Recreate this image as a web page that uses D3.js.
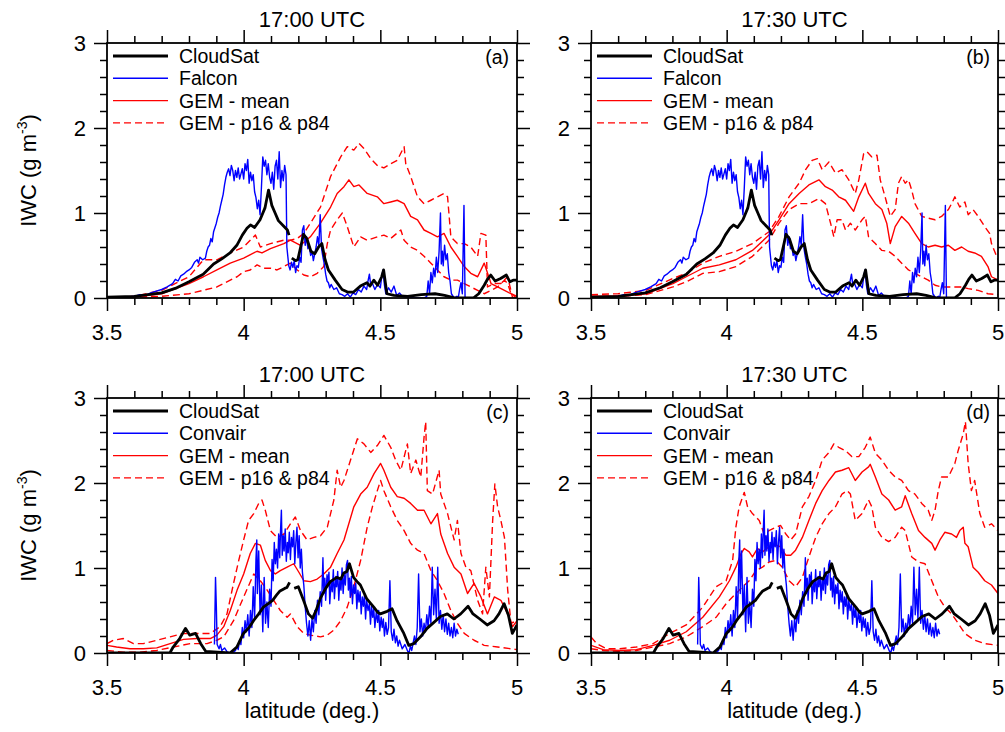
<!DOCTYPE html>
<html><head><meta charset="utf-8">
<script src="https://cdn.jsdelivr.net/npm/d3@7"></script>
<style>body{margin:0;background:#fff}svg{display:block}text{font-family:'Liberation Sans',Arial,Helvetica,sans-serif;fill:#000}</style>
</head><body><svg id="c" width="1005" height="732"></svg>
<script>
// ---------- axis tick definitions ----------
const xTicks=[3.5,4,4.5,5], xTickLabels=["3.5","4","4.5","5"];
const xMinorTicks=[3.6,3.7,3.8,3.9,4.1,4.2,4.3,4.4,4.6,4.7,4.8,4.9];
const yTicks=[0,1,2,3], yTickLabels=["0","1","2","3"];
const yMinorTicks=[0.2,0.4,0.6,0.8,1.2,1.4,1.6,1.8,2.2,2.4,2.6,2.8];
const titles=["17:00 UTC","17:30 UTC","17:00 UTC","17:30 UTC"];
const panelTags=["(a)","(b)","(c)","(d)"];
const aircraftNames=["Falcon","Falcon","Convair","Convair"];

// ---------- observations, Falcon track (panels a, b) ----------
const cloudsatFalcon=[[3.50,0.01],[3.60,0.02],[3.70,0.06],[3.755,0.12],[3.80,0.19],[3.852,0.28],[3.89,0.40],[3.92,0.46],[3.95,0.53],[3.975,0.62],[3.995,0.74],[4.012,0.82],[4.025,0.86],[4.04,0.83],[4.06,0.92],[4.078,1.06],[4.091,1.27],[4.103,1.09],[4.115,1.00],[4.127,0.91],[4.145,0.85],[4.16,0.80],[4.166,0.74],null,[4.176,0.47],[4.19,0.44],[4.198,0.45],[4.219,0.75],[4.231,0.70],[4.246,0.55],[4.26,0.52],[4.274,0.60],[4.286,0.64],[4.298,0.45],[4.31,0.33],[4.335,0.21],[4.36,0.10],[4.38,0.07],[4.402,0.07],[4.427,0.14],[4.451,0.18],[4.462,0.14],[4.476,0.21],[4.49,0.15],[4.505,0.25],[4.512,0.33],[4.524,0.05],[4.55,0.03],[4.60,0.02],[4.65,0.04],[4.70,0.05],[4.735,0.03],[4.775,0.00],[4.84,0.00],[4.86,0.05],[4.88,0.15],[4.892,0.22],[4.904,0.27],[4.92,0.20],[4.94,0.23],[4.961,0.27],[4.974,0.19],[4.986,0.21],[5.0,0.21]];
const falcon=[[3.55,0.00],[3.60,0.02],[3.62,0.04],[3.64,0.03],[3.66,0.06],[3.68,0.08],[3.70,0.10],[3.72,0.13],[3.74,0.17],[3.75,0.22],[3.76,0.20],[3.77,0.26],[3.78,0.28],[3.79,0.31],[3.80,0.33],[3.81,0.36],[3.82,0.42],[3.83,0.45],[3.835,0.41],[3.84,0.48],[3.85,0.45],[3.86,0.47],[3.865,0.55],[3.87,0.60],[3.875,0.62],[3.88,0.70],[3.885,0.66],[3.89,0.78],[3.895,0.83],[3.90,0.88],[3.905,0.95],[3.91,1.00],[3.915,1.08],[3.92,1.15],[3.925,1.22],[3.93,1.33],[3.935,1.42],[3.94,1.48],[3.945,1.52],[3.95,1.44],[3.955,1.56],[3.96,1.50],[3.965,1.38],[3.97,1.50],[3.975,1.42],[3.98,1.53],[3.985,1.40],[3.99,1.46],[3.995,1.52],[4.00,1.40],[4.005,1.58],[4.01,1.50],[4.015,1.63],[4.02,1.35],[4.025,1.48],[4.03,1.38],[4.035,1.45],[4.04,1.25],[4.045,1.18],[4.05,1.05],[4.055,1.15],[4.06,0.98],[4.065,1.30],[4.07,1.66],[4.075,1.55],[4.08,1.62],[4.085,1.45],[4.09,1.58],[4.095,1.42],[4.10,1.35],[4.105,1.48],[4.11,1.28],[4.115,1.55],[4.12,1.62],[4.125,1.40],[4.13,1.72],[4.135,1.30],[4.14,1.50],[4.145,1.38],[4.15,1.56],[4.155,1.45],[4.158,0.60],[4.165,0.38],[4.17,0.33],[4.175,0.42],[4.18,0.36],[4.185,0.44],[4.19,0.30],[4.195,0.38],[4.20,0.36],[4.205,0.48],[4.21,0.42],[4.215,0.80],[4.22,0.85],[4.225,0.62],[4.23,0.72],[4.235,0.58],[4.24,0.62],[4.245,0.50],[4.25,0.55],[4.255,0.44],[4.26,0.52],[4.265,0.60],[4.27,0.72],[4.275,0.62],[4.28,0.98],[4.285,0.58],[4.29,0.48],[4.295,0.40],[4.30,0.28],[4.305,0.20],[4.31,0.18],[4.315,0.12],[4.32,0.16],[4.33,0.10],[4.34,0.12],[4.35,0.05],[4.36,0.04],[4.37,0.02],[4.38,0.05],[4.39,0.01],[4.40,0.06],[4.41,0.04],[4.42,0.10],[4.43,0.07],[4.44,0.14],[4.45,0.10],[4.455,0.20],[4.46,0.28],[4.465,0.15],[4.47,0.18],[4.48,0.10],[4.49,0.16],[4.50,0.12],[4.505,0.25],[4.51,0.33],[4.515,0.15],[4.52,0.05],[4.53,0.12],[4.54,0.07],[4.55,0.14],[4.56,0.03],[4.57,0.06],[4.58,0.02],[4.60,0.01],[4.62,0.00],[4.66,0.00],[4.67,0.02],[4.675,0.20],[4.68,0.05],[4.685,0.30],[4.69,0.18],[4.695,0.35],[4.70,0.25],[4.705,0.48],[4.71,0.30],[4.715,0.55],[4.72,1.00],[4.723,0.40],[4.727,0.55],[4.73,0.38],[4.735,0.62],[4.74,0.45],[4.745,0.52],[4.75,0.30],[4.755,0.20],[4.76,0.05],[4.77,0.00],[4.78,0.02],[4.785,0.00],[4.79,0.10],[4.795,0.18],[4.80,0.05],[4.806,1.09],[4.81,0.00],[4.82,0.00]];

// ---------- observations, Convair track (panels c, d) ----------
const cloudsatConvair=[[3.50,0.00],[3.73,0.00],[3.742,0.07],[3.766,0.17],[3.787,0.29],[3.803,0.21],[3.824,0.23],[3.843,0.11],[3.861,0.02],[3.905,0.01],[3.95,0.00],[3.975,0.07],[3.999,0.23],[4.02,0.30],[4.036,0.38],[4.055,0.46],[4.072,0.54],[4.09,0.58],[4.106,0.62],[4.12,0.68],[4.133,0.73],[4.15,0.76],[4.158,0.77],[4.168,0.83],null,[4.185,0.76],[4.2,0.78],[4.219,0.62],[4.237,0.46],[4.252,0.41],[4.265,0.50],[4.28,0.64],[4.30,0.76],[4.317,0.84],[4.341,0.89],[4.355,0.87],[4.366,0.94],[4.378,0.96],[4.387,1.05],[4.402,0.89],[4.415,0.84],[4.427,0.80],[4.45,0.64],[4.476,0.54],[4.49,0.48],[4.50,0.46],[4.525,0.49],[4.543,0.52],[4.561,0.38],[4.586,0.23],[4.604,0.09],[4.622,0.11],[4.647,0.19],[4.671,0.29],[4.696,0.36],[4.72,0.43],[4.745,0.46],[4.769,0.40],[4.794,0.46],[4.821,0.55],[4.839,0.46],[4.864,0.40],[4.891,0.33],[4.916,0.38],[4.934,0.46],[4.953,0.58],[4.969,0.44],[4.983,0.23],[5.0,0.33]];
const convair=[[3.893,0.10],[3.897,0.89],[3.900,0.55],[3.903,0.10],[3.91,0.05],[3.915,0.10],[3.92,0.03],[3.93,0.06],[3.94,0.01],[3.95,0.00],[3.96,0.00],[3.97,0.03],[3.975,0.08],[3.98,0.04],[3.985,0.15],[3.99,0.10],[3.995,0.30],[4.00,0.18],[4.005,0.38],[4.01,0.25],[4.015,0.45],[4.02,0.20],[4.025,0.50],[4.03,0.30],[4.035,0.78],[4.04,0.40],[4.045,1.10],[4.048,1.33],[4.05,0.70],[4.055,1.20],[4.06,0.45],[4.065,0.80],[4.07,0.25],[4.075,0.89],[4.08,0.35],[4.085,0.60],[4.09,0.30],[4.095,0.75],[4.10,0.55],[4.104,1.10],[4.108,0.85],[4.112,1.30],[4.116,1.05],[4.12,1.22],[4.124,1.00],[4.128,1.40],[4.132,1.12],[4.135,1.45],[4.138,1.68],[4.141,1.15],[4.145,1.38],[4.148,1.20],[4.152,1.46],[4.156,1.08],[4.16,1.30],[4.163,1.18],[4.167,1.42],[4.171,1.10],[4.175,1.36],[4.179,1.25],[4.183,1.44],[4.187,1.05],[4.191,1.30],[4.195,1.48],[4.199,1.12],[4.203,1.38],[4.207,1.00],[4.211,1.22],[4.215,0.95],[4.22,0.80],[4.225,0.55],[4.23,0.35],[4.235,0.20],[4.24,0.38],[4.245,0.15],[4.25,0.40],[4.255,0.25],[4.26,0.50],[4.265,0.35],[4.27,0.62],[4.275,0.45],[4.28,0.72],[4.285,0.55],[4.29,1.12],[4.293,0.70],[4.297,0.88],[4.30,0.62],[4.305,0.92],[4.308,0.80],[4.312,0.95],[4.315,0.58],[4.32,0.85],[4.324,0.72],[4.328,0.98],[4.332,0.64],[4.337,0.90],[4.34,0.78],[4.344,0.96],[4.348,0.62],[4.352,0.86],[4.356,0.74],[4.36,1.00],[4.364,0.70],[4.368,0.92],[4.372,0.80],[4.376,1.04],[4.38,1.09],[4.383,0.74],[4.387,0.88],[4.39,0.66],[4.394,0.90],[4.398,0.58],[4.402,0.80],[4.406,0.70],[4.41,0.82],[4.414,0.52],[4.418,0.74],[4.422,0.60],[4.426,0.72],[4.43,0.46],[4.434,0.66],[4.438,0.55],[4.442,0.68],[4.446,0.40],[4.45,0.62],[4.455,0.50],[4.46,0.58],[4.464,0.34],[4.468,0.55],[4.472,0.42],[4.476,0.52],[4.48,0.30],[4.485,0.48],[4.49,0.36],[4.494,0.50],[4.498,0.26],[4.503,0.42],[4.507,0.30],[4.511,0.40],[4.515,0.20],[4.52,0.36],[4.525,0.22],[4.53,0.30],[4.535,0.85],[4.54,0.25],[4.545,0.15],[4.55,0.28],[4.555,0.12],[4.56,0.20],[4.565,0.08],[4.57,0.15],[4.58,0.05],[4.59,0.10],[4.60,0.02],[4.605,0.00],[4.61,0.08],[4.615,0.03],[4.62,0.12],[4.625,0.20],[4.63,0.10],[4.635,0.30],[4.64,0.93],[4.645,0.25],[4.65,0.40],[4.655,0.20],[4.66,0.35],[4.665,0.25],[4.67,0.45],[4.675,0.30],[4.68,0.55],[4.685,0.35],[4.69,1.01],[4.695,0.45],[4.70,0.75],[4.705,0.40],[4.71,1.01],[4.715,0.35],[4.72,0.50],[4.725,0.28],[4.73,0.45],[4.735,0.25],[4.74,0.40],[4.745,0.22],[4.75,0.35],[4.755,0.20],[4.76,0.30],[4.765,0.18],[4.77,0.35],[4.775,0.20],[4.78,0.28],[4.785,0.22]];

// ---------- GEM, panel (a) ----------
const gemMeanA=[[3.50,0.00],[3.60,0.01],[3.70,0.05],[3.80,0.17],[3.853,0.25],[3.902,0.33],[3.951,0.41],[4.00,0.47],[4.049,0.55],[4.067,0.53],[4.098,0.58],[4.147,0.64],[4.171,0.68],[4.208,0.62],[4.244,0.72],[4.281,0.88],[4.318,1.07],[4.342,1.23],[4.367,1.31],[4.385,1.39],[4.403,1.31],[4.422,1.33],[4.452,1.23],[4.489,1.19],[4.513,1.11],[4.538,1.13],[4.562,1.15],[4.587,1.11],[4.611,0.96],[4.636,0.92],[4.660,0.80],[4.685,0.76],[4.709,0.72],[4.733,0.76],[4.758,0.60],[4.782,0.49],[4.807,0.37],[4.831,0.29],[4.856,0.25],[4.880,0.41],[4.905,0.17],[4.929,0.13],[4.954,0.09],[4.978,0.05],[5.0,0.02]];
const gemP84A=[[3.50,0.00],[3.60,0.02],[3.70,0.09],[3.80,0.25],[3.853,0.45],[3.902,0.45],[3.951,0.53],[4.00,0.60],[4.024,0.68],[4.043,0.74],[4.061,0.60],[4.098,0.64],[4.147,0.68],[4.171,0.68],[4.196,0.70],[4.220,0.76],[4.244,0.88],[4.281,1.07],[4.318,1.43],[4.355,1.66],[4.379,1.78],[4.403,1.74],[4.422,1.82],[4.440,1.76],[4.465,1.64],[4.489,1.56],[4.513,1.53],[4.538,1.58],[4.562,1.62],[4.587,1.78],[4.593,1.58],[4.611,1.43],[4.636,1.19],[4.660,1.11],[4.685,1.15],[4.709,1.19],[4.733,1.23],[4.746,1.19],[4.758,0.72],[4.782,0.64],[4.807,0.64],[4.831,0.60],[4.856,0.49],[4.868,0.76],[4.886,0.74],[4.892,0.13],[4.917,0.17],[4.941,0.17],[4.966,0.25],[4.984,0.00],[5.0,0.00]];
const gemP16A=[[3.50,0.00],[3.70,0.02],[3.80,0.05],[3.902,0.13],[3.951,0.21],[3.976,0.25],[4.00,0.31],[4.024,0.33],[4.049,0.39],[4.073,0.35],[4.098,0.35],[4.122,0.33],[4.147,0.37],[4.171,0.41],[4.196,0.33],[4.220,0.27],[4.244,0.25],[4.269,0.29],[4.293,0.37],[4.306,0.64],[4.318,0.80],[4.342,0.92],[4.361,1.00],[4.379,0.84],[4.403,0.60],[4.428,0.72],[4.452,0.68],[4.489,0.72],[4.513,0.74],[4.538,0.70],[4.575,0.80],[4.587,0.68],[4.611,0.60],[4.636,0.56],[4.660,0.49],[4.685,0.41],[4.709,0.33],[4.733,0.25],[4.758,0.21],[4.782,0.21],[4.807,0.17],[4.831,0.13],[4.856,0.09],[4.880,0.05],[4.905,0.09],[4.929,0.13],[4.954,0.21],[4.966,0.17],[4.978,0.05],[5.0,0.00]];

// ---------- GEM, panel (b) ----------
const gemMeanB=[[3.50,0.02],[3.600,0.02],[3.702,0.05],[3.802,0.17],[3.851,0.25],[3.912,0.35],[3.973,0.39],[4.034,0.45],[4.095,0.56],[4.156,0.74],[4.193,0.92],[4.230,1.11],[4.267,1.23],[4.303,1.33],[4.340,1.39],[4.364,1.31],[4.389,1.27],[4.413,1.19],[4.438,1.15],[4.468,1.02],[4.487,1.19],[4.511,1.35],[4.523,1.23],[4.548,1.11],[4.572,1.04],[4.590,0.88],[4.603,0.64],[4.621,0.84],[4.645,0.96],[4.670,0.88],[4.694,0.76],[4.719,0.64],[4.743,0.60],[4.768,0.62],[4.792,0.60],[4.817,0.62],[4.841,0.56],[4.866,0.60],[4.890,0.55],[4.914,0.53],[4.939,0.49],[4.963,0.37],[4.976,0.25],[5.0,0.21]];
const gemP84B=[[3.50,0.04],[3.600,0.05],[3.702,0.09],[3.802,0.23],[3.851,0.29],[3.912,0.41],[3.973,0.49],[4.034,0.55],[4.095,0.64],[4.156,0.78],[4.193,0.96],[4.230,1.19],[4.267,1.35],[4.291,1.51],[4.315,1.62],[4.334,1.64],[4.352,1.51],[4.377,1.60],[4.401,1.47],[4.425,1.51],[4.450,1.39],[4.474,1.23],[4.487,1.39],[4.505,1.70],[4.517,1.72],[4.535,1.66],[4.554,1.68],[4.566,1.39],[4.584,1.19],[4.603,0.96],[4.621,1.04],[4.633,1.35],[4.645,1.43],[4.658,1.35],[4.670,1.39],[4.682,1.27],[4.694,1.11],[4.719,0.96],[4.743,0.94],[4.768,0.92],[4.792,0.96],[4.817,1.04],[4.829,1.11],[4.841,1.19],[4.859,1.07],[4.878,1.13],[4.890,0.98],[4.908,1.04],[4.927,0.96],[4.951,0.84],[4.969,0.76],[4.976,0.64],[5.0,0.45]];
const gemP16B=[[3.50,0.02],[3.600,0.02],[3.702,0.04],[3.802,0.13],[3.851,0.19],[3.912,0.29],[3.973,0.31],[4.034,0.37],[4.095,0.49],[4.156,0.68],[4.193,0.88],[4.230,1.04],[4.267,1.11],[4.303,1.11],[4.340,1.17],[4.364,1.11],[4.383,0.88],[4.395,0.72],[4.407,0.92],[4.425,0.92],[4.438,0.80],[4.456,0.88],[4.474,0.80],[4.499,0.92],[4.511,0.96],[4.523,0.72],[4.548,0.64],[4.572,0.56],[4.597,0.55],[4.621,0.49],[4.645,0.41],[4.670,0.33],[4.694,0.29],[4.719,0.25],[4.743,0.21],[4.768,0.15],[4.792,0.13],[4.829,0.13],[4.866,0.13],[4.890,0.11],[4.927,0.09],[4.963,0.05],[5.0,0.04]];

// ---------- GEM, panel (c) ----------
const gemMeanC=[[3.50,0.09],[3.535,0.07],[3.584,0.05],[3.633,0.05],[3.682,0.06],[3.731,0.11],[3.780,0.16],[3.829,0.17],[3.878,0.17],[3.902,0.21],[3.927,0.31],[3.951,0.50],[3.976,0.74],[4.000,0.93],[4.024,1.17],[4.043,1.29],[4.061,1.27],[4.079,1.09],[4.098,0.97],[4.116,0.93],[4.134,0.97],[4.159,1.01],[4.183,1.05],[4.202,0.95],[4.220,0.85],[4.244,0.84],[4.269,0.87],[4.293,0.93],[4.318,1.01],[4.342,1.17],[4.367,1.33],[4.403,1.72],[4.428,1.87],[4.452,1.95],[4.477,2.11],[4.501,2.23],[4.513,2.15],[4.538,1.95],[4.562,1.84],[4.587,1.82],[4.611,1.76],[4.636,1.68],[4.660,1.68],[4.685,1.52],[4.709,1.64],[4.721,1.40],[4.746,1.17],[4.770,1.01],[4.795,0.93],[4.819,0.70],[4.843,0.82],[4.868,0.66],[4.892,0.46],[4.917,0.66],[4.941,0.62],[4.966,0.46],[4.984,0.31],[5.0,0.38]];
const gemP84C=[[3.50,0.11],[3.523,0.15],[3.560,0.17],[3.597,0.11],[3.633,0.11],[3.682,0.15],[3.731,0.19],[3.780,0.23],[3.829,0.23],[3.878,0.23],[3.914,0.31],[3.939,0.46],[3.963,0.82],[3.982,1.09],[4.000,1.33],[4.018,1.56],[4.037,1.64],[4.055,1.76],[4.067,1.80],[4.079,1.68],[4.098,1.44],[4.122,1.36],[4.147,1.40],[4.171,1.52],[4.189,1.60],[4.208,1.44],[4.232,1.33],[4.257,1.36],[4.281,1.38],[4.306,1.48],[4.330,1.80],[4.342,2.15],[4.355,1.95],[4.367,2.03],[4.391,2.27],[4.416,2.52],[4.440,2.46],[4.465,2.36],[4.489,2.44],[4.513,2.56],[4.538,2.42],[4.556,2.27],[4.575,2.15],[4.599,2.46],[4.611,2.11],[4.630,2.27],[4.648,2.07],[4.660,2.54],[4.666,2.72],[4.672,1.91],[4.691,1.87],[4.715,2.15],[4.721,1.87],[4.746,1.64],[4.770,1.33],[4.782,1.56],[4.795,1.17],[4.813,1.01],[4.831,0.97],[4.856,0.62],[4.874,0.46],[4.886,1.01],[4.899,0.66],[4.911,1.56],[4.919,1.99],[4.929,1.72],[4.941,1.56],[4.954,1.36],[4.966,0.74],[4.978,0.35],[5.0,0.38]];
const gemP16C=[[3.50,0.03],[3.560,0.01],[3.621,0.01],[3.682,0.03],[3.743,0.07],[3.804,0.11],[3.866,0.11],[3.902,0.15],[3.927,0.19],[3.963,0.38],[4.000,0.66],[4.037,0.93],[4.061,0.85],[4.086,0.74],[4.110,0.62],[4.134,0.50],[4.159,0.42],[4.171,0.46],[4.196,0.31],[4.220,0.23],[4.244,0.21],[4.281,0.19],[4.306,0.21],[4.330,0.27],[4.355,0.38],[4.379,0.54],[4.403,0.78],[4.428,1.09],[4.452,1.48],[4.471,1.72],[4.489,1.91],[4.501,2.03],[4.513,1.91],[4.538,1.72],[4.562,1.56],[4.587,1.44],[4.611,1.29],[4.636,1.21],[4.660,1.17],[4.685,0.97],[4.709,0.85],[4.733,0.70],[4.758,0.50],[4.782,0.35],[4.807,0.23],[4.843,0.15],[4.880,0.09],[4.929,0.07],[4.978,0.05],[5.0,0.04]];

// ---------- GEM, panel (d) ----------
const gemMeanD=[[3.50,0.09],[3.545,0.04],[3.606,0.03],[3.667,0.04],[3.729,0.09],[3.790,0.15],[3.851,0.25],[3.912,0.42],[3.973,0.66],[4.010,0.85],[4.034,1.01],[4.053,1.17],[4.065,1.23],[4.083,1.19],[4.095,1.13],[4.114,1.23],[4.132,1.19],[4.156,1.25],[4.181,1.27],[4.199,1.25],[4.218,1.15],[4.236,1.15],[4.254,1.21],[4.279,1.36],[4.303,1.56],[4.328,1.76],[4.352,1.91],[4.377,2.03],[4.401,2.13],[4.425,2.15],[4.450,2.18],[4.474,2.03],[4.499,2.13],[4.523,2.19],[4.529,2.22],[4.548,2.07],[4.572,1.87],[4.597,1.80],[4.621,1.68],[4.645,1.72],[4.658,1.85],[4.682,1.64],[4.707,1.44],[4.731,1.36],[4.756,1.29],[4.768,1.21],[4.786,1.33],[4.804,1.42],[4.829,1.40],[4.847,1.36],[4.859,1.44],[4.872,1.48],[4.878,1.29],[4.890,1.25],[4.908,1.01],[4.927,0.95],[4.951,0.85],[4.976,0.80],[5.0,0.70]];
const gemP84D=[[3.50,0.19],[3.521,0.11],[3.557,0.05],[3.606,0.05],[3.667,0.07],[3.729,0.11],[3.790,0.23],[3.851,0.33],[3.912,0.54],[3.961,0.78],[3.998,0.85],[4.022,1.09],[4.034,1.48],[4.046,1.72],[4.065,1.89],[4.077,1.72],[4.095,1.64],[4.120,1.56],[4.138,1.40],[4.156,1.44],[4.181,1.48],[4.199,1.50],[4.218,1.40],[4.236,1.33],[4.254,1.40],[4.279,1.72],[4.303,1.84],[4.328,2.03],[4.352,2.27],[4.377,2.36],[4.395,2.46],[4.413,2.42],[4.438,2.38],[4.462,2.31],[4.487,2.31],[4.511,2.42],[4.529,2.54],[4.548,2.35],[4.572,2.27],[4.597,2.15],[4.621,2.07],[4.645,2.03],[4.670,1.91],[4.694,1.87],[4.719,1.76],[4.743,1.68],[4.756,1.56],[4.768,1.68],[4.780,1.91],[4.792,2.07],[4.817,2.07],[4.841,2.23],[4.853,2.38],[4.872,2.58],[4.880,2.72],[4.890,2.23],[4.902,1.91],[4.914,2.03],[4.933,1.64],[4.951,1.48],[4.976,1.52],[5.0,1.44]];
const gemP16D=[[3.50,0.05],[3.545,0.03],[3.606,0.02],[3.667,0.03],[3.729,0.07],[3.790,0.11],[3.851,0.19],[3.912,0.31],[3.961,0.42],[3.998,0.58],[4.034,0.70],[4.059,0.78],[4.083,0.85],[4.108,0.97],[4.132,1.01],[4.156,1.07],[4.181,1.09],[4.205,1.01],[4.230,0.85],[4.254,0.78],[4.279,0.89],[4.303,1.13],[4.328,1.36],[4.352,1.52],[4.377,1.64],[4.401,1.72],[4.425,1.87],[4.444,1.91],[4.456,1.87],[4.474,1.56],[4.499,1.64],[4.523,1.80],[4.535,1.72],[4.548,1.48],[4.572,1.36],[4.597,1.31],[4.621,1.36],[4.645,1.48],[4.658,1.44],[4.682,1.13],[4.707,1.07],[4.731,1.05],[4.756,0.85],[4.780,0.66],[4.804,0.54],[4.829,0.46],[4.853,0.35],[4.878,0.23],[4.914,0.15],[4.951,0.11],[5.0,0.09]];

// ---------- layout ----------
const boxes=[{x:107,y:43,w:410,h:255},{x:591,y:43,w:407,h:255},{x:107,y:398,w:410,h:255},{x:591,y:398,w:407,h:255}];
const series=[
 {cs:cloudsatFalcon,ac:falcon,mean:gemMeanA,p16:gemP16A,p84:gemP84A},
 {cs:cloudsatFalcon,ac:falcon,mean:gemMeanB,p16:gemP16B,p84:gemP84B},
 {cs:cloudsatConvair,ac:convair,mean:gemMeanC,p16:gemP16C,p84:gemP84C},
 {cs:cloudsatConvair,ac:convair,mean:gemMeanD,p16:gemP16D,p84:gemP84D}];

const svg=d3.select("#c");
const FS=22, LFS=19.5;
const BLUE="#0000ff", RED="#ff0000";
const DASH="7,4";

boxes.forEach((b,i)=>{
  const s=series[i];
  const g=svg.append("g").attr("transform",`translate(${b.x},${b.y})`);
  const xs=d3.scaleLinear().domain([3.5,5]).range([0,b.w]);
  const ys=d3.scaleLinear().domain([0,3]).range([b.h,0]);
  const cid="clip"+i;
  g.append("clipPath").attr("id",cid).append("rect").attr("width",b.w).attr("height",b.h);
  const plot=g.append("g").attr("clip-path",`url(#${cid})`);
  const line=d3.line().defined(d=>d!==null).x(d=>xs(d[0])).y(d=>ys(d[1]));
  const draw=(data,color,w,dash)=>plot.append("path").attr("d",line(data)).attr("fill","none")
     .attr("stroke",color).attr("stroke-width",w).attr("stroke-linejoin","round")
     .attr("stroke-dasharray",dash||null);
  draw(s.p84,RED,1.4,DASH);
  draw(s.p16,RED,1.4,DASH);
  draw(s.mean,RED,1.4);
  draw(s.ac,BLUE,1.4);
  draw(s.cs,"#000",2.8);

  // axes (ticks outward on all four sides)
  const mk=(axis,scale,vals,size,tr)=>{
    const a=g.append("g").attr("transform",tr||null)
      .call(axis(scale).tickValues(vals).tickSize(size).tickFormat(""));
    a.select(".domain").remove();
    a.selectAll("line").attr("stroke","#000").attr("stroke-width",1.5);
  };
  mk(d3.axisBottom,xs,xTicks,13,`translate(0,${b.h})`);
  mk(d3.axisBottom,xs,xMinorTicks,7,`translate(0,${b.h})`);
  mk(d3.axisTop,xs,xTicks,13);
  mk(d3.axisTop,xs,xMinorTicks,7);
  mk(d3.axisLeft,ys,yTicks,13);
  mk(d3.axisLeft,ys,yMinorTicks,7);
  mk(d3.axisRight,ys,yTicks,13,`translate(${b.w},0)`);
  mk(d3.axisRight,ys,yMinorTicks,7,`translate(${b.w},0)`);

  g.append("rect").attr("width",b.w).attr("height",b.h).attr("fill","none")
    .attr("stroke","#000").attr("stroke-width",1.8);

  // tick labels
  g.selectAll(".xl").data(xTicks).enter().append("text")
    .attr("x",d=>xs(d)).attr("y",b.h+42).attr("text-anchor","middle")
    .attr("font-size",FS).text((d,k)=>xTickLabels[k]);
  g.selectAll(".yl").data(yTicks).enter().append("text")
    .attr("x",-21).attr("y",d=>ys(d)).attr("dy","0.36em").attr("text-anchor","end")
    .attr("font-size",FS).text((d,k)=>yTickLabels[k]);

  // title and tag
  g.append("text").attr("x",b.w/2).attr("y",-16).attr("text-anchor","middle")
    .attr("font-size",FS).text(titles[i]);
  g.append("text").attr("x",b.w-8).attr("y",21).attr("text-anchor","end")
    .attr("font-size",LFS).text(panelTags[i]);

  // legend
  const leg=[{t:"CloudSat",c:"#000",w:3.2},{t:aircraftNames[i],c:BLUE,w:1.4},
             {t:"GEM - mean",c:RED,w:1.4},{t:"GEM - p16 & p84",c:RED,w:1.4,d:DASH}];
  leg.forEach((l,k)=>{
    const yy=13+k*22.3;
    g.append("line").attr("x1",6).attr("x2",61).attr("y1",yy).attr("y2",yy)
      .attr("stroke",l.c).attr("stroke-width",l.w).attr("stroke-dasharray",l.d||null);
    g.append("text").attr("x",72).attr("y",yy+7).attr("font-size",LFS).text(l.t);
  });

  // axis titles
  if(i%2===0){
    const t=svg.append("text").attr("transform",`translate(36,${b.y+b.h/2}) rotate(-90)`)
      .attr("text-anchor","middle").attr("font-size",FS);
    t.append("tspan").text("IWC (g m");
    t.append("tspan").attr("dy",-9).attr("font-size",14).text("-3");
    t.append("tspan").attr("dy",9).text(")");
  }
  if(i>=2){
    svg.append("text").attr("x",b.x+b.w/2).attr("y",718).attr("text-anchor","middle")
      .attr("font-size",FS).text("latitude (deg.)");
  }
});
</script></body></html>
